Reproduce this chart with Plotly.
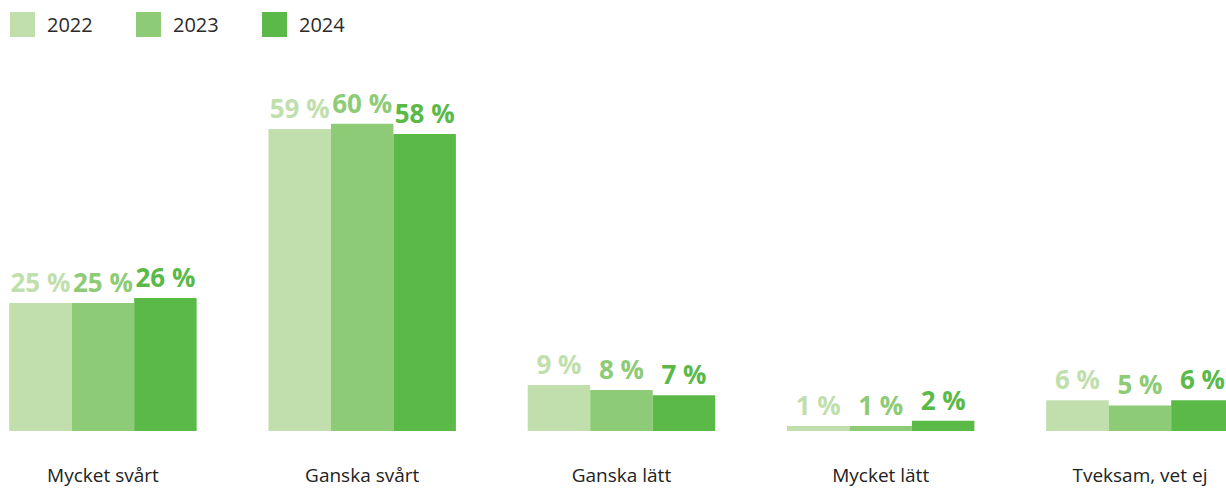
import plotly.graph_objects as go

categories = ["Mycket svårt", "Ganska svårt", "Ganska lätt", "Mycket lätt", "Tveksam, vet ej"]
years = ["2022", "2023", "2024"]
values_2022 = [25, 59, 9, 1, 6]
values_2023 = [25, 60, 8, 1, 5]
values_2024 = [26, 58, 7, 2, 6]
colors = ["#C0DFAD", "#8DCB77", "#5AB947"]

series = [values_2022, values_2023, values_2024]

fig = go.Figure()
for yr, vals, col in zip(years, series, colors):
    fig.add_trace(go.Bar(
        x=categories, y=vals, name=yr,
        marker=dict(color=col, line=dict(width=0)),
        texttemplate="%{y} %", textposition="outside",
        textfont=dict(family="Open Sans", size=26, color=col, weight=700),
        cliponaxis=False, showlegend=False,
    ))

# custom legend (large squares)
W, H = 1226, 489
for i, (yr, col) in enumerate(zip(years, colors)):
    x0 = 10 + i * 126
    fig.add_shape(type="rect", xref="paper", yref="paper",
                  x0=x0 / W, x1=(x0 + 25) / W,
                  y0=1 - 37 / (H - 58), y1=1 - 12 / (H - 58),
                  fillcolor=col, line=dict(width=0), layer="above")
    fig.add_annotation(text=yr, xref="paper", yref="paper",
                       x=(x0 + 35) / W, y=1 - 24.5 / (H - 58),
                       xanchor="left", yanchor="middle", showarrow=False,
                       font=dict(family="Open Sans", size=20, color="#2a2a2a"))

fig.update_layout(
    width=W, height=H,
    margin=dict(l=0, r=0, t=0, b=58),
    paper_bgcolor="white", plot_bgcolor="white",
    barmode="group", bargap=0.277, bargroupgap=0,
    xaxis=dict(range=[-0.397, 4.332], showgrid=False, showline=False, zeroline=False,
               ticks="", ticklabelstandoff=31, automargin=False,
               tickfont=dict(family="Open Sans", size=19, color="#222222")),
    yaxis=dict(range=[0, 84.2], visible=False, automargin=False),
)

fig.write_html("out.html", config={"displayModeBar": False},
               post_script="document.body.style.margin='0';document.body.style.overflow='hidden';")
